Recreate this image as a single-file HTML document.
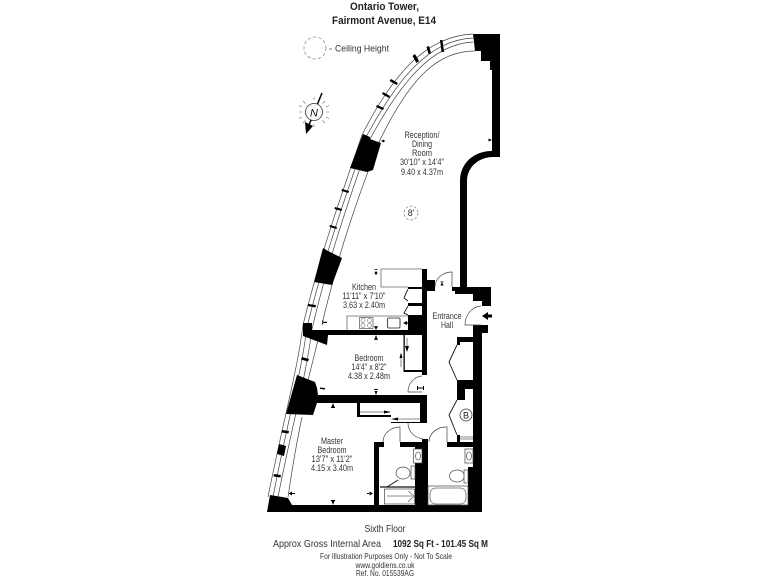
<!DOCTYPE html>
<html><head><meta charset="utf-8"><style>
html,body{margin:0;padding:0;background:#fff;width:768px;height:576px;overflow:hidden}
svg{display:block;filter:blur(.3px)}
text{font-family:"Liberation Sans",sans-serif;fill:#333;text-anchor:middle}
.r{font-size:8.8px}
.l{fill:none;stroke:#444;stroke-width:.7}
.t{fill:none;stroke:#666;stroke-width:.8}
.d{fill:#fff;stroke:#444;stroke-width:.7}
.k{fill:#000;stroke:none}
</style></head><body>
<svg width="768" height="576" viewBox="0 0 768 576" xmlns="http://www.w3.org/2000/svg">
<!-- title -->
<text x="384.500" y="10" font-size="11" font-weight="bold" textLength="69" lengthAdjust="spacingAndGlyphs" style="fill:#222">Ontario Tower,</text>
<text x="384" y="24" font-size="11" font-weight="bold" textLength="104" lengthAdjust="spacingAndGlyphs" style="fill:#222">Fairmont Avenue, E14</text>
<circle cx="315" cy="48" r="11" fill="none" stroke="#777" stroke-width=".7" stroke-dasharray="3 2.500"/>
<path d="M329,49H332" stroke="#444" stroke-width=".7"/>
<text x="362" y="51.500" font-size="9.500" textLength="54" lengthAdjust="spacingAndGlyphs">Ceiling Height</text>
<!-- compass -->
<circle cx="314" cy="112" r="8.500" fill="none" stroke="#333" stroke-width=".8"/>
<g stroke="#666" stroke-width=".6">
<path d="M314,100V97M314,124v3M302,112h-3M326,112h3M305.500,103.500l-2.500,-2.500M322.500,103.500l2.500,-2.500M305.500,120.500l-2.500,2.500M322.500,120.500l2.500,2.500M302,107l-3,-1.500M326,107l3,-1.500M302,117l-3,1.500M326,117l3,1.500"/>
</g>
<path d="M322,93L317.500,104" stroke="#000" stroke-width="1.500"/>
<path d="M311,120L309,125" stroke="#000" stroke-width="1.500"/>
<path class="k" d="M305,122L313,126L306,134Z"/>
<text x="314" y="116.500" font-size="11" font-style="italic" style="fill:#111">N</text>
<!-- curved window lines -->
<g class="l">
<path d="M473,34C425,36 392,76 362,135C345,185 322,248 303,325C297,373 285,412 268,497"/>
<path d="M473,38C428,40 397,80 366,137C349,187 326,250 307,327C301,375 289,414 273,497"/>
<path d="M473,42C431,44 400,84 370,139C353,189 330,252 312,329C306,377 294,416 278,497"/>
<path d="M475,51C440,51 412,74 380,140C366,176 352,214 340,255C331,290 326,305 322,325"/>
<path d="M318,340C314,356 310,373 306,388M302,417C296,445 292,470 288,497"/>
</g>
<!-- walls -->
<g class="k">
<path d="M473,34H500V157H493C479,157 467,167 467,181V287H491V306H482V301H473V294H455V291H452V287H460V181C460,163 474,151 492,151V70H490V61H481V51H475Z"/>
<path d="M363,134L370,137L370,139L381,143L373,170L367,172L350,168Z"/>
<path d="M323,248L328,251L342,258L332,285L314,282Z"/>
<path d="M297,375L315,382L317,388L318,395H345V403H317L313,415L286,414Z"/>
<path d="M270,495L288,498L292,505H374V442H384V447H379V505H415V447H400V442H422V439H428V505H468V467H473V447H447V442H457V435H460V442H473V325H488V333H482V512H267Z"/>
<path d="M303,323H312V330H427V335H408V315H422V306H408V303H422V289H408V287H422V269H427V280H435V291H427V375H422V335H328L327,345L303,336Z"/>
<path d="M345,395H427V423H391V422H420V403H345Z"/>
<path d="M457,337H473V342H460V345H457Z"/>
<path d="M457,380H473V389H465V400H457Z"/>
<path d="M357,403H360V415H391V417H357Z"/>
<path d="M403.500,335H404.800V370H422V372H403.500Z"/>
<!-- mullions -->
<path d="M440,40L442.500,40L444,52L441.500,52Z"/>
<path d="M426.500,47L429,46L431,53L428.500,54Z"/>
<path d="M412.500,56L415,54L419,61L416.500,63Z"/>
<path d="M391,79L398,83L396.500,85L389.500,81Z"/>
<path d="M383,92L390,96L389,98L382,94Z"/>
<path d="M377,105L384,108L383,110L376,107Z"/>
<path d="M342,189L349,191L348.500,193L341.500,191Z"/>
<path d="M335,207L342,209L341.500,211L334.500,209Z"/>
<path d="M330,225L337,227L336.500,229L329.500,227Z"/>
<path d="M308,304L316,305L315.500,307.500L307.500,306Z"/>
<path d="M302,357L309,359L308,361.500L301,359.500Z"/>
<path d="M282,430L289,431L288.500,433.500L281.500,432.500Z"/>
<path d="M279,444L286,446L284,456L277,454Z"/>
<path d="M274,474L281,475L280.500,477.500L273.500,476.500Z"/>
</g>
<!-- kitchen units -->
<path class="t" d="M422,269H381V287H408"/>
<path class="t" d="M408,316H347V330"/>
<rect x="359.500" y="317.500" width="13.500" height="11" class="t"/>
<g fill="none" stroke="#888" stroke-width=".7"><circle cx="363" cy="320.500" r="2"/><circle cx="369.500" cy="320.500" r="2"/><circle cx="363" cy="325.500" r="2"/><circle cx="369.500" cy="325.500" r="2"/></g>
<rect x="387.500" y="318" width="12.500" height="10" rx="1.500" fill="none" stroke="#555" stroke-width="1.100"/>
<path d="M408,289L404,298L408,301M408,306L404,313L408,315" fill="none" stroke="#111" stroke-width=".9"/>
<path d="M457,345L449,362L457,380M457,400L449,415L457,435" fill="none" stroke="#111" stroke-width=".9"/>
<circle cx="466" cy="415" r="6" fill="#fff" stroke="#333" stroke-width=".8"/>
<text x="466" y="418.500" font-size="9" style="fill:#222">B</text>
<path class="t" d="M460,437H473M460,439H473"/>
<!-- doors -->
<g class="l">
<path d="M435,287A17,15 0 0 1 452,272V287"/>
<path d="M481,306A17,19 0 0 0 465,325H481"/>
<path d="M422,376A15,16 0 0 0 408,392H422"/>
<path d="M408,423A17,16 0 0 0 423,439"/>
<path d="M383,442A17,15 0 0 1 400,427V442"/>
<path d="M429,442A17,15 0 0 1 447,427V442"/>
</g>
<!-- wardrobe rails -->
<path class="t" d="M360,412H390M393,419H420"/>
<path class="k" d="M384,410.500L391,412L384,413.500ZM391,419L398,417.500V420.500Z"/>
<path class="t" d="M407,338V350M401,355V367"/>
<path class="k" d="M405,346H409L407,352ZM399.500,358L401,352.500L402.500,358Z"/>
<!-- entrance arrow -->
<path class="k" d="M482,316L488,312V314.500H492V317.500H488V320Z"/>
<!-- bathrooms -->
<rect x="413.500" y="449" width="8.500" height="14" class="d"/><ellipse cx="418" cy="456" rx="2.500" ry="4" class="t"/>
<ellipse cx="403" cy="473" rx="7" ry="6" class="d"/><rect x="411" y="466" width="4" height="13" class="d"/>
<path d="M387,487L398,480" stroke="#111" stroke-width="1"/>
<path d="M380,487H415" stroke="#111" stroke-width="1.300"/>
<rect x="384.500" y="489" width="30" height="15" class="d"/>
<path class="t" d="M387,496H412M408,491L414,496L408,502"/>
<rect x="465" y="449" width="8" height="14" class="d"/><ellipse cx="469" cy="456" rx="2.500" ry="4" class="t"/>
<ellipse cx="457" cy="476" rx="7.500" ry="6" class="d"/><rect x="464" y="470" width="4" height="13" class="d"/>
<rect x="428" y="486" width="40" height="19" class="d"/>
<rect x="430" y="488" width="36" height="16" rx="6" class="t"/>
<!-- ticks -->
<g class="k">
<path d="M374.500,269h3v.7h-3ZM376,271l1.500,2h-3ZM376,275l1.500,-2h-3Z"/>
<path d="M374,326H378V326.700H374ZM374.500,327H377.500L376,330ZM374,339.300H378V340H374ZM374.500,339H377.500L376,335Z"/>
<path d="M440.500,281.500h3v.7h-3ZM440.500,285.500h3L442,282Z"/>
<path d="M381,141L384,139.500V142.500ZM384,140.500H385V141.500H384Z"/>
<path d="M492,140L488.500,138.500V141.500ZM492,139H493V141H492Z"/>
<path d="M322,321.700H327V323H322ZM322,320.500V324H323V320.500Z"/>
<path d="M403,323L407,321V325ZM407,322.500H410V323.500H407Z"/>
<path d="M417,386H418V390H417ZM423,386H424V390H423ZM418,387.500H423V388.500H418Z"/>
<path d="M374,389H378V390H374ZM374.500,391H377.500L376,395ZM331.500,407H334.500L333,403ZM331,407H335V408H331ZM331.500,501H334.500L333,505ZM331,500H335V501H331Z"/>
<path d="M288.500,493.500L292,491.500V495.500ZM292,493H295V494H292ZM373,493.500L369.500,491.500V495.500ZM367,493H370V494H367Z"/>
<path d="M320,387.500L325,388V389.500L320,389Z"/>
</g>
<!-- room labels -->
<g class="r">
<text x="422" y="138" textLength="35" lengthAdjust="spacingAndGlyphs">Reception/</text><text x="422" y="147" textLength="20" lengthAdjust="spacingAndGlyphs">Dining</text><text x="422" y="156" textLength="20" lengthAdjust="spacingAndGlyphs">Room</text><text x="422" y="165" textLength="44" lengthAdjust="spacingAndGlyphs">30'10" x 14'4"</text><text x="422" y="175" textLength="42" lengthAdjust="spacingAndGlyphs">9.40 x 4.37m</text>
<circle cx="411" cy="213" r="7" fill="none" stroke="#777" stroke-width=".7" stroke-dasharray="2.500 2"/>
<text x="411" y="216">8'</text>
<text x="364" y="290" textLength="24" lengthAdjust="spacingAndGlyphs">Kitchen</text><text x="364" y="299" textLength="43" lengthAdjust="spacingAndGlyphs">11'11" x 7'10"</text><text x="364" y="308" textLength="42" lengthAdjust="spacingAndGlyphs">3.63 x 2.40m</text>
<text x="447" y="319" textLength="29" lengthAdjust="spacingAndGlyphs">Entrance</text><text x="447" y="328" textLength="12" lengthAdjust="spacingAndGlyphs">Hall</text>
<text x="369" y="361" textLength="29" lengthAdjust="spacingAndGlyphs">Bedroom</text><text x="369" y="370" textLength="35" lengthAdjust="spacingAndGlyphs">14'4" x 8'2"</text><text x="369" y="379" textLength="42" lengthAdjust="spacingAndGlyphs">4.38 x 2.48m</text>
<text x="332" y="444" textLength="22" lengthAdjust="spacingAndGlyphs">Master</text><text x="332" y="453" textLength="29" lengthAdjust="spacingAndGlyphs">Bedroom</text><text x="332" y="462" textLength="41" lengthAdjust="spacingAndGlyphs">13'7" x 11'2"</text><text x="332" y="471" textLength="42" lengthAdjust="spacingAndGlyphs">4.15 x 3.40m</text>
</g>
<!-- footer -->
<text x="385" y="532" font-size="10.500" textLength="41" lengthAdjust="spacingAndGlyphs">Sixth Floor</text>
<text x="273" y="547" font-size="10.500" textLength="108" lengthAdjust="spacingAndGlyphs" style="text-anchor:start">Approx Gross Internal Area</text>
<text x="393" y="547" font-size="10.500" font-weight="bold" textLength="95" lengthAdjust="spacingAndGlyphs" style="text-anchor:start;fill:#222">1092 Sq Ft  - 101.45 Sq M</text>
<text x="386" y="559" font-size="8.500" textLength="132" lengthAdjust="spacingAndGlyphs">For Illustration Purposes Only - Not To Scale</text>
<text x="385" y="568" font-size="8.500" textLength="59" lengthAdjust="spacingAndGlyphs">www.goldiens.co.uk</text>
<text x="385" y="576" font-size="8.500" textLength="58" lengthAdjust="spacingAndGlyphs">Ref. No. 015539AG</text>
</svg>
</body></html>
